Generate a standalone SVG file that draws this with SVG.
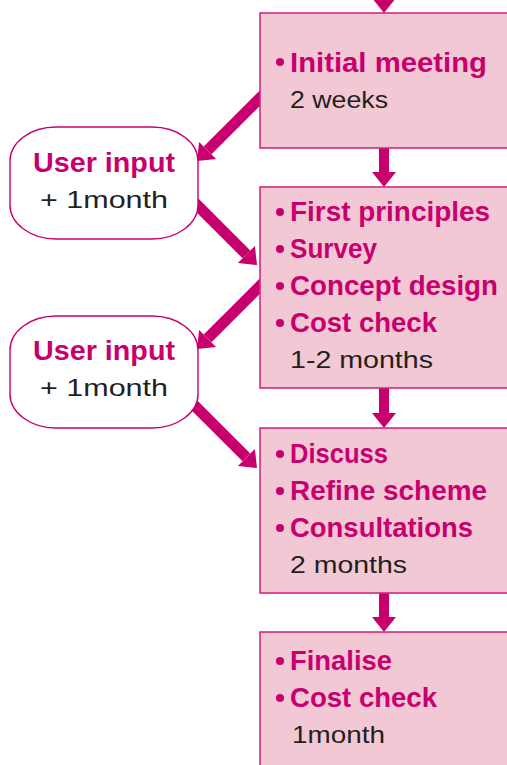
<svg xmlns="http://www.w3.org/2000/svg" width="507" height="765" viewBox="0 0 507 765">
<style>
.box{fill:#F2C8D5;stroke:#D42A7E;stroke-width:1.6}
.pill{fill:#FFFFFF;stroke:#C8006E;stroke-width:1.4}
.b{font-family:"Liberation Sans",Arial,sans-serif;font-weight:bold;font-size:27px;fill:#C8006E}
.r{font-family:"Liberation Sans",Arial,sans-serif;font-size:24px;fill:#231F20}
.dot{fill:#C8006E}
.shaft{stroke:#C8006E;stroke-width:11;fill:none}
.vshaft{stroke:#C8006E;stroke-width:10;fill:none}
</style>
<defs>
<marker id="head" markerUnits="userSpaceOnUse" viewBox="0 -12 15 24" refX="0" refY="0" markerWidth="15" markerHeight="24" orient="auto" overflow="visible">
<path d="M0,-12 L15,0 L0,12 Z" fill="#C8006E"/>
</marker>
</defs>
<g id="connectors">
<line class="vshaft" x1="384" y1="-30" x2="384" y2="-2" marker-end="url(#head)"/>
<line class="vshaft" x1="384" y1="148" x2="384" y2="172" marker-end="url(#head)"/>
<line class="vshaft" x1="384" y1="388" x2="384" y2="413" marker-end="url(#head)"/>
<line class="vshaft" x1="384" y1="593" x2="384" y2="617" marker-end="url(#head)"/>
<line class="shaft" x1="270" y1="88" x2="207.6" y2="150.4" marker-end="url(#head)"/>
<line class="shaft" x1="185" y1="193" x2="246.4" y2="254.4" marker-end="url(#head)"/>
<line class="shaft" x1="270" y1="276" x2="207.6" y2="338.4" marker-end="url(#head)"/>
<line class="shaft" x1="185" y1="396" x2="246.4" y2="457.4" marker-end="url(#head)"/>
</g>
<g id="box1">
<rect class="box" x="260" y="13" width="270" height="135"/>
<circle class="dot" cx="280" cy="62" r="4"/>
<text class="b" x="290" y="72" textLength="197" lengthAdjust="spacingAndGlyphs">Initial meeting</text>
<text class="r" x="290" y="108" textLength="98" lengthAdjust="spacingAndGlyphs">2 weeks</text>
</g>
<g id="box2">
<rect class="box" x="260" y="187" width="270" height="201"/>
<circle class="dot" cx="280" cy="212" r="4"/>
<text class="b" x="290" y="221" textLength="200" lengthAdjust="spacingAndGlyphs">First principles</text>
<circle class="dot" cx="280" cy="249" r="4"/>
<text class="b" x="290" y="258" textLength="87" lengthAdjust="spacingAndGlyphs">Survey</text>
<circle class="dot" cx="280" cy="286" r="4"/>
<text class="b" x="290" y="295" textLength="208" lengthAdjust="spacingAndGlyphs">Concept design</text>
<circle class="dot" cx="280" cy="323" r="4"/>
<text class="b" x="290" y="332" textLength="147" lengthAdjust="spacingAndGlyphs">Cost check</text>
<text class="r" x="290" y="368" textLength="143" lengthAdjust="spacingAndGlyphs">1-2 months</text>
</g>
<g id="box3">
<rect class="box" x="260" y="428" width="270" height="165"/>
<circle class="dot" cx="280" cy="454" r="4"/>
<text class="b" x="290" y="463" textLength="98" lengthAdjust="spacingAndGlyphs">Discuss</text>
<circle class="dot" cx="280" cy="491" r="4"/>
<text class="b" x="290" y="500" textLength="197" lengthAdjust="spacingAndGlyphs">Refine scheme</text>
<circle class="dot" cx="280" cy="528" r="4"/>
<text class="b" x="290" y="537" textLength="183" lengthAdjust="spacingAndGlyphs">Consultations</text>
<text class="r" x="290" y="573" textLength="117" lengthAdjust="spacingAndGlyphs">2 months</text>
</g>
<g id="box4">
<rect class="box" x="260" y="632" width="270" height="160"/>
<circle class="dot" cx="280" cy="661" r="4"/>
<text class="b" x="290" y="670" textLength="102" lengthAdjust="spacingAndGlyphs">Finalise</text>
<circle class="dot" cx="280" cy="698" r="4"/>
<text class="b" x="290" y="707" textLength="147" lengthAdjust="spacingAndGlyphs">Cost check</text>
<text class="r" x="292" y="743" textLength="93" lengthAdjust="spacingAndGlyphs">1month</text>
</g>
<g id="input1">
<rect class="pill" x="10" y="127" width="188" height="112" rx="46" ry="34"/>
<text class="b" x="33" y="172" font-size="28" textLength="142" lengthAdjust="spacingAndGlyphs">User input</text>
<text class="r" x="40" y="208" textLength="128" lengthAdjust="spacingAndGlyphs">+ 1month</text>
</g>
<g id="input2">
<rect class="pill" x="10" y="316" width="188" height="112" rx="46" ry="34"/>
<text class="b" x="33" y="360" font-size="28" textLength="142" lengthAdjust="spacingAndGlyphs">User input</text>
<text class="r" x="40" y="396" textLength="128" lengthAdjust="spacingAndGlyphs">+ 1month</text>
</g>
</svg>
